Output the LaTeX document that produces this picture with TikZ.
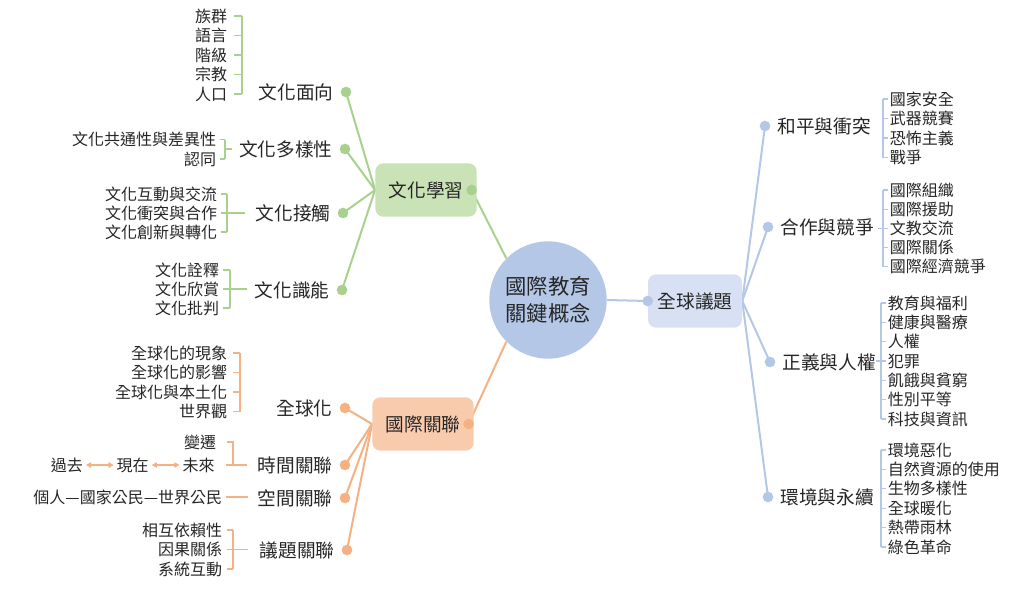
\documentclass[tikz,border=0pt]{standalone}
\usepackage{fontspec}
\setmainfont{Noto Sans CJK TC}
\usetikzlibrary{arrows.meta,positioning,backgrounds}

\definecolor{grnline}{HTML}{A9D18E}
\definecolor{grnfill}{HTML}{C9E2B6}
\definecolor{orgline}{HTML}{F4B183}
\definecolor{orgfill}{HTML}{F8CBAD}
\definecolor{bluline}{HTML}{B4C7E7}
\definecolor{blufill}{HTML}{D7E1F3}
\definecolor{hubblue}{HTML}{B4C7E7}
\definecolor{txt}{HTML}{262626}

\begin{document}
\begin{tikzpicture}[x=0.75pt, y=-0.75pt,
  every node/.append style={text=txt},
  hub/.style={circle, fill=hubblue, minimum size=88pt, inner sep=0pt,
              align=center, font=\fontsize{16}{20}\selectfont},
  topic/.style={rounded corners=6pt, minimum width=76pt, minimum height=40pt,
                inner sep=2pt, font=\fontsize{14}{16}\selectfont},
  sub/.style={inner sep=1pt, font=\fontsize{14}{16}\selectfont},
  leaf/.style={inner sep=0.5pt, font=\fontsize{12}{14}\selectfont},
  dot/.style={circle, inner sep=0pt, minimum size=8pt},
  glink/.style={draw=grnline, line width=1.5pt},
  olink/.style={draw=orgline, line width=1.5pt},
  blink/.style={draw=bluline, line width=1.5pt},
  gbr/.style={draw=grnline, line width=1pt},
  obr/.style={draw=orgline, line width=1pt},
  bbr/.style={draw=bluline, line width=1pt},
  tarr/.style={draw=orgline, line width=1pt,
               {Triangle[length=4pt,width=4pt]}-{Triangle[length=4pt,width=4pt]}},
]
\useasboundingbox (0,0) rectangle (1024,590);

%% ---- hub and the three topics ----
\node[hub] (ctr) at (548,300) {國際教育\\關鍵概念};
\node[topic, fill=grnfill] (cul) at (426,190) {文化學習};
\node[topic, fill=orgfill] (intl) at (423,424) {國際關聯};
\node[topic, fill=blufill, minimum width=70.5pt] (glob) at (695,301) {全球議題};
\node[dot, fill=grnline] (dcul) at ([xshift=-4]cul.east) {};
\node[dot, fill=orgline] (dintl) at ([xshift=-4]intl.east) {};
\node[dot, fill=bluline] (dglob) at (glob.west) {};

%% ---- 文化學習 branch ----
\node[dot, fill=grnline] (dc1) at (346,92) {};
\node[dot, fill=grnline] (dc2) at (345,149) {};
\node[dot, fill=grnline] (dc3) at (343,213) {};
\node[dot, fill=grnline] (dc4) at (342,290) {};
\node[sub, left=4pt of dc1] (c1) {文化面向};
\node[sub, left=4pt of dc2] (c2) {文化多樣性};
\node[sub, left=4pt of dc3] (c3) {文化接觸};
\node[sub, left=4pt of dc4] (c4) {文化識能};

\foreach \t [count=\k from 0] in {族群,語言,階級,宗教,人口}{
  \node[leaf, anchor=east] (c1-\k) at (228,16+19.5*\k) {\t};
  \draw[gbr] (c1-\k.east) ++(6,0) -- (242,16+19.5*\k);
}
\draw[gbr] (242,16) -- (242,94);

\foreach \t [count=\k from 0] in {文化共通性與差異性,認同}{
  \node[leaf, anchor=east] (c2-\k) at (217,139.5+19.5*\k) {\t};
  \draw[gbr] (c2-\k.east) ++(3,0) -- (225,139.5+19.5*\k);
}
\draw[gbr] (225,139.5) -- (225,159);
\draw[gbr] (225,149) -- (232,149);

\foreach \t [count=\k from 0] in {文化互動與交流,文化衝突與合作,文化創新與轉化}{
  \node[leaf, anchor=east] (c3-\k) at (218,194+19*\k) {\t};
  \draw[gbr] (c3-\k.east) ++(3,0) -- (227,194+19*\k);
}
\draw[gbr] (227,194) -- (227,232);
\draw[gbr] (227,213) -- (245,213);

\foreach \t [count=\k from 0] in {文化詮釋,文化欣賞,文化批判}{
  \node[leaf, anchor=east] (c4-\k) at (220,270+19*\k) {\t};
  \draw[gbr] (c4-\k.east) ++(3,0) -- (230,270+19*\k);
}
\draw[gbr] (230,270) -- (230,308);
\draw[gbr] (230,289) -- (247,289);

%% ---- 國際關聯 branch ----
\node[dot, fill=orgline] (di1) at (345,408) {};
\node[dot, fill=orgline] (di2) at (345,465) {};
\node[dot, fill=orgline] (di3) at (345,498) {};
\node[dot, fill=orgline] (di4) at (347,550) {};
\node[sub, left=4pt of di1] (i1) {全球化};
\node[sub, left=4pt of di2] (i2) {時間關聯};
\node[sub, left=4pt of di3] (i3) {空間關聯};
\node[sub, left=4pt of di4] (i4) {議題關聯};

\foreach \t [count=\k from 0] in {全球化的現象,全球化的影響,全球化與本土化,世界觀}{
  \node[leaf, anchor=east] (i1-\k) at (228,353+19.5*\k) {\t};
  \draw[obr] (i1-\k.east) ++(5,0) -- (240,353+19.5*\k);
}
\draw[obr] (240,353) -- (240,411.5);

\node[leaf, anchor=east] (chg) at (217,442) {變遷};
\node[leaf, anchor=east, inner sep=2pt] (fut) at (217.5,465) {未來};
\node[leaf, inner sep=2pt, left=21pt of fut] (now) {現在};
\node[leaf, inner sep=2pt, left=21pt of now] (past) {過去};
\draw[tarr] (past) -- (now);
\draw[tarr] (now) -- (fut);
\draw[obr] (chg.east) ++(10,0) -| (233,465);
\draw[obr] (fut.east) ++(8,0) -- (247,465);

\node[leaf, anchor=east] (spc) at (223,497) {個人—國家公民—世界公民};
\draw[obr] (spc.east) ++(3,0) -- (248,497);

\foreach \t [count=\k from 0] in {相互依賴性,因果關係,系統互動}{
  \node[leaf, anchor=east] (i4-\k) at (223,530+19.5*\k) {\t};
  \draw[obr] (i4-\k.east) ++(4,0) -- (233,530+19.5*\k);
}
\draw[obr] (233,530) -- (233,569);
\draw[obr] (233,549.5) -- (248,549.5);

%% ---- 全球議題 branch ----
\node[dot, fill=bluline] (dg1) at (765,126) {};
\node[dot, fill=bluline] (dg2) at (768,227) {};
\node[dot, fill=bluline] (dg3) at (770,362) {};
\node[dot, fill=bluline] (dg4) at (768,497) {};
\node[sub, right=4pt of dg1] (g1) {和平與衝突};
\node[sub, right=4pt of dg2] (g2) {合作與競爭};
\node[sub, right=4pt of dg3] (g3) {正義與人權};
\node[sub, right=4pt of dg4] (g4) {環境與永續};

\foreach \t [count=\k from 0] in {國家安全,武器競賽,恐怖主義,戰爭}{
  \node[leaf, anchor=west] (g1-\k) at (889,99+19.5*\k) {\t};
  \draw[bbr] (g1-\k.west) ++(-1,0) -- (883,99+19.5*\k);
}
\draw[bbr] (883,99) -- (883,157.5);

\foreach \t [count=\k from 0] in {國際組織,國際援助,文教交流,國際關係,國際經濟競爭}{
  \node[leaf, anchor=west] (g2-\k) at (889,190+19.2*\k) {\t};
  \draw[bbr] (g2-\k.west) ++(-1,0) -- (883,190+19.2*\k);
}
\draw[bbr] (883,190) -- (883,266.8);
\draw[bbr] (878,228.4) -- (883,228.4);

\foreach \t [count=\k from 0] in {教育與福利,健康與醫療,人權,犯罪,飢餓與貧窮,性別平等,科技與資訊}{
  \node[leaf, anchor=west] (g3-\k) at (887,303+19.35*\k) {\t};
  \draw[bbr] (g3-\k.west) ++(-1,0) -- (881,303+19.35*\k);
}
\draw[bbr] (881,303) -- (881,419.1);
\draw[bbr] (876,361) -- (881,361);

\foreach \t [count=\k from 0] in {環境惡化,自然資源的使用,生物多樣性,全球暖化,熱帶雨林,綠色革命}{
  \node[leaf, anchor=west] (g4-\k) at (887,450+19.4*\k) {\t};
  \draw[bbr] (g4-\k.west) ++(-1,0) -- (881,450+19.4*\k);
}
\draw[bbr] (881,450) -- (881,547);

%% ---- connectors ----
\begin{scope}[on background layer]
  \draw[glink] (dcul.center) -- (ctr.135);
  \draw[olink] (dintl.center) -- (ctr.225);
  \draw[blink] (ctr.east) -- (dglob.center);
  \foreach \n in {dc1,dc2,dc3,dc4} \draw[glink] (cul.west) -- (\n.center);
  \foreach \n in {di1,di2,di3,di4} \draw[olink] (intl.west) -- (\n.center);
  \foreach \n in {dg1,dg2,dg3,dg4} \draw[blink] (glob.east) -- (\n.center);
\end{scope}

\end{tikzpicture}
\end{document}
